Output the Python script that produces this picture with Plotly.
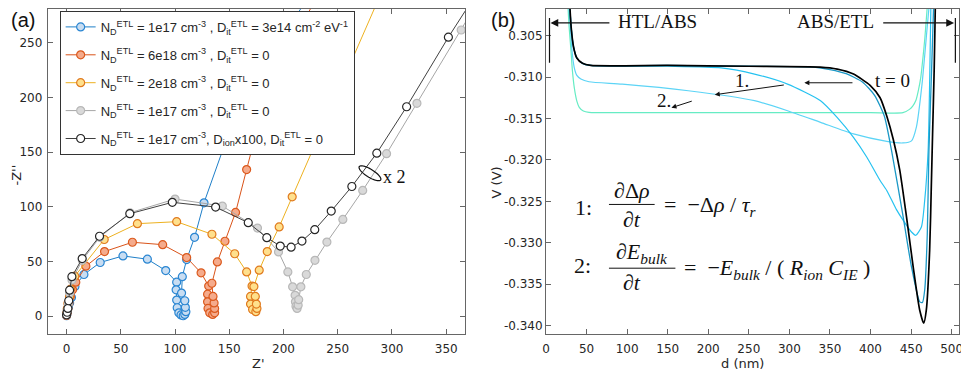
import numpy as np
import plotly.graph_objects as go

# ---------------- (a) Nyquist data: Z' and -Z'' ----------------
blue_re = [0, 0.3, 0.8, 1.6, 2.8, 4.5, 7.7, 16, 31, 52, 74.5, 91.4, 101.5, 101, 101.5, 102, 103.5,
           105.5, 107.5, 109, 110, 109.5, 109, 106, 106.7, 110.7, 118, 126.7, 163, 250]
blue_im = [0.3, 2, 4.5, 8, 12, 17, 27, 38, 49, 55, 52, 41.6, 31, 24, 14.6, 7.6, 3,
           1, 0.3, 1.5, 4, 8, 14, 21, 36, 51.7, 72, 103.6, 205, 330]

orange_re = [0, 0.5, 1.2, 2.2, 3.5, 5.5, 8.5, 17.8, 35, 60.7, 88.6, 110.7, 124, 131, 130, 130,
             130.4, 132, 134.7, 136.5, 136.5, 136, 135, 134, 139, 146, 155.8, 166, 188, 260]
orange_im = [0.5, 3, 7, 12, 18, 24, 31, 45.6, 59, 67.5, 65.3, 53.5, 39.5, 27.4, 20, 13,
             7, 3, 1.5, 3, 7, 12, 18, 30, 49.5, 68.4, 94.8, 134, 219, 340]

yellow_re = [0, 0.6, 1.2, 2.7, 3.7, 7.6, 34.7, 65.3, 101.5, 134, 155, 166, 171, 169.6, 169.6,
             171.5, 174.5, 175.5, 175, 174, 172.7, 177.6, 185, 196, 208, 300]
yellow_im = [1.8, 6.4, 11.5, 18, 24.6, 36.5, 70, 84.5, 86.3, 74.8, 57, 40.4, 27.4, 18, 11,
             6, 4, 7, 11, 18, 27, 42, 59, 81.5, 109, 318]

gray_re = [0, 0.8, 1.6, 2.8, 5, 14.5, 30.5, 58.5, 100, 143.6, 176, 195.4, 204, 208.4, 210.7,
           211, 211.5, 212.5, 213.5, 214, 216, 221, 229, 240, 254.7, 273, 295, 323, 363.8, 400]
gray_im = [1, 5, 11, 21, 33, 51, 72, 94.5, 107, 100.6, 80.5, 58.7, 40.4, 26.7, 19,
           13, 9, 7, 10, 15, 26.7, 38, 51, 67.7, 88.4, 114.9, 148.5, 194.5, 261.6, 322]

black_re = [0, 0.5, 1.2, 2, 2.8, 4.9, 14.4, 30.4, 58.3, 97.5, 137.4, 167.5, 184.6, 197, 207,
            217, 228.8, 244, 263, 286, 313.5, 352, 385]
black_im = [1, 3.5, 7, 14, 23.7, 36, 52.6, 73, 93.6, 104, 99.7, 85.4, 71.7, 64, 63,
            68.6, 79, 96, 118.5, 149, 191.4, 255, 306]

names_a = [
    "N<sub>D</sub><sup>ETL</sup> = 1e17 cm<sup>-3</sup> , D<sub>it</sub><sup>ETL</sup> = 3e14 cm<sup>-2</sup> eV<sup>-1</sup>",
    "N<sub>D</sub><sup>ETL</sup> = 6e18 cm<sup>-3</sup> , D<sub>it</sub><sup>ETL</sup> = 0",
    "N<sub>D</sub><sup>ETL</sup> = 2e18 cm<sup>-3</sup> , D<sub>it</sub><sup>ETL</sup> = 0",
    "N<sub>D</sub><sup>ETL</sup> = 1e17 cm<sup>-3</sup> , D<sub>it</sub><sup>ETL</sup> = 0",
    "N<sub>D</sub><sup>ETL</sup> = 1e17 cm<sup>-3</sup>, D<sub>ion</sub>x100, D<sub>it</sub><sup>ETL</sup> = 0",
]

# ---------------- (b) potential profiles V(d) ----------------
d_t0 = [29, 31, 34, 38, 45, 55, 150, 250, 338, 359, 379, 399.5, 411.8, 420, 428, 436,
        444.4, 452.6, 460.6, 465.6, 468.8, 472.9, 475, 476.5, 478.5, 480]
v_t0 = [-0.3008, -0.3040, -0.3064, -0.3077, -0.30835, -0.3086, -0.3086, -0.3087, -0.3088,
        -0.30904, -0.30964, -0.3110, -0.3125, -0.3147, -0.3175, -0.3212, -0.3269, -0.3329,
        -0.3381, -0.3397, -0.3381, -0.3309, -0.3229, -0.3169, -0.3090, -0.3008]

d_c1 = [29, 31, 34, 38, 45, 55, 150, 250, 330, 350, 370, 390, 405, 417, 426, 440.3, 450.5,
        460.6, 464, 466.8, 470, 472, 475, 478]
v_c1 = [-0.3008, -0.3040, -0.3064, -0.3077, -0.30835, -0.3086, -0.3086, -0.3087, -0.3088,
        -0.3091, -0.3096, -0.3106, -0.3122, -0.3147, -0.3189, -0.3269, -0.3329, -0.3371,
        -0.3372, -0.3357, -0.3289, -0.3189, -0.3100, -0.3008]

d_c2 = [29, 31, 34, 38, 45, 55, 150, 216, 257, 297.7, 338.4, 358.8, 379, 395.5, 411.8, 420,
        432, 440.3, 450.5, 455.8, 462.7, 466.8, 471, 473, 474.5]
v_c2 = [-0.3008, -0.3040, -0.3064, -0.3077, -0.30835, -0.3086, -0.3087, -0.3089, -0.30964,
        -0.31085, -0.31285, -0.31486, -0.31727, -0.31967, -0.32248, -0.32368, -0.3260,
        -0.32729, -0.32869, -0.32909, -0.32809, -0.32488, -0.31887, -0.3100, -0.3008]

d_c3 = [27.5, 30, 32, 34.8, 38, 43, 53, 94, 175.4, 257, 297.7, 338.4, 379, 420, 440, 450.5,
        456.6, 463.5, 469.5, 471.5, 473]
v_c3 = [-0.3008, -0.3040, -0.3068, -0.30885, -0.3098, -0.31024, -0.31057, -0.31085, -0.31165,
        -0.31285, -0.31406, -0.31546, -0.31686, -0.31775, -0.31795, -0.3177, -0.31600,
        -0.31085, -0.30440, -0.3022, -0.3008]

d_c4 = [26.7, 28.5, 30.8, 32.5, 34.8, 38, 41, 46, 53, 100, 200, 300, 400, 440, 448, 452,
        456, 459, 462, 464.8, 466.8, 468.8, 470.5]
v_c4 = [-0.3008, -0.3040, -0.30684, -0.3092, -0.31125, -0.31290, -0.31366, -0.31410,
        -0.31426, -0.3143, -0.3143, -0.3143, -0.3143, -0.3143, -0.3139, -0.3135, -0.3128,
        -0.3116, -0.3100, -0.3075, -0.3055, -0.3030, -0.3008]

a_xticks = [0, 50, 100, 150, 200, 250, 300, 350]
a_yticks = [0, 50, 100, 150, 200, 250]
b_xticks = [0, 50, 100, 150, 200, 250, 300, 350, 400, 450, 500]
b_yticks = [-0.340, -0.335, -0.330, -0.325, -0.320, -0.315, -0.310, -0.305]
b_ylabels = ["-0.340", "-0.335", "-0.330", "-0.325", "-0.320", "-0.315", "-0.310", "0.305"]

fig = go.Figure()

series_a = [(blue_re, blue_im), (orange_re, orange_im), (yellow_re, yellow_im),
            (gray_re, gray_im), (black_re, black_im)]
line_cols = ["#1f7fc8", "#d95319", "#edb120", "#a6a6a6", "#404040"]
edge_cols = ["#2a86d2", "#db5a1e", "#e07a1e", "#b8b8b8", "#262626"]
fill_cols = ["#c8ddf2", "#f5ab8c", "#ffe08c", "#d9d9d9", "#ffffff"]

for i, ((zr, zi), name, lc, ec, fc) in enumerate(zip(series_a, names_a, line_cols, edge_cols, fill_cols)):
    fig.add_trace(go.Scatter(
        x=zr, y=zi, name=name, mode="lines+markers", legendgroup=f"g{i}",
        line=dict(color=lc, width=1),
        marker=dict(size=8, color=fc, line=dict(color=ec, width=1.2)),
        xaxis="x", yaxis="y"
    ))

series_b = [(d_c4, v_c4, "#66ecc4", 1.2), (d_c3, v_c3, "#5cd4f6", 1.2),
            (d_c2, v_c2, "#26c2f0", 1.2), (d_c1, v_c1, "#1b98c6", 1.3),
            (d_t0, v_t0, "#000000", 1.7)]
for dd, vv, col, w in series_b:
    fig.add_trace(go.Scatter(
        x=dd, y=vv, mode="lines", line=dict(color=col, width=w, shape="spline", smoothing=0.6),
        showlegend=False, xaxis="x2", yaxis="y2"
    ))

tickfont = dict(family="DejaVu Sans", size=12, color="#262626")
axis_common = dict(showline=True, linecolor="#666666", linewidth=1, mirror="ticks",
                   ticks="inside", ticklen=5, tickcolor="#666666", showgrid=False,
                   zeroline=False, tickfont=tickfont)

# the page body adds an 8 px offset, so the figure is 8 px smaller than the window
fig.update_layout(
    width=961, height=366,
    margin=dict(l=0, r=0, t=0, b=40),
    paper_bgcolor="white", plot_bgcolor="white",
    xaxis=dict(domain=[0.03746, 0.47555], range=[-17.4, 367.5], tickvals=a_xticks,
               anchor="y", ticklabelstandoff=4, **axis_common),
    yaxis=dict(domain=[0, 1], range=[-16.4, 280.8], tickvals=a_yticks,
               anchor="x", ticklabelstandoff=2, **axis_common),
    xaxis2=dict(domain=[0.56035, 0.99407], range=[0, 509.5], tickvals=b_xticks,
                anchor="y2", ticklabelstandoff=4, **axis_common),
    yaxis2=dict(domain=[0, 1], range=[-0.341, -0.30179], tickvals=b_yticks,
                ticktext=b_ylabels, anchor="x2", **axis_common),
    legend=dict(x=0.05, y=0.994, xanchor="left", yanchor="top", tracegroupgap=8,
                bgcolor="white", bordercolor="#333333", borderwidth=1,
                font=dict(family="Liberation Sans", size=13, color="#262626")),
)

# ellipse marking the x2 scaled curves
t = np.linspace(0, 2 * np.pi, 60)
ang = np.deg2rad(-31.6)
ex = 12.7 * np.cos(t)
ey = 4.0 * np.sin(t)
px = ex * np.cos(ang) - ey * np.sin(ang)
py = ex * np.sin(ang) + ey * np.cos(ang)
cx, cy = 279.7, 130.6
path = "M " + " L ".join(f"{cx + a / 1.094:.3f},{cy + b / 1.097:.3f}" for a, b in zip(px, py)) + " Z"
fig.add_shape(type="path", path=path, xref="x", yref="y", line=dict(color="#111111", width=1.2))
fig.add_annotation(x=302.6, y=127, xref="x", yref="y", text="x 2", showarrow=False,
                   font=dict(family="Liberation Serif", size=18, color="#111111"))

serif = dict(family="Liberation Serif", size=19, color="#111111")
eqfont = dict(family="Liberation Serif", size=22, color="#111111")

# interface labels with arrows
fig.add_annotation(x=137.5, y=-0.30335, xref="x2", yref="y2", text="HTL/ABS",
                   showarrow=False, font=serif)
fig.add_annotation(x=356.4, y=-0.30335, xref="x2", yref="y2", text="ABS/ETL",
                   showarrow=False, font=serif)
for hx, tx in [(5.5, 80), (503, 413.8)]:
    fig.add_annotation(x=hx, y=-0.30347, ax=tx, ay=-0.30347, xref="x2", yref="y2",
                       axref="x2", ayref="y2", text="", showarrow=True, arrowhead=2,
                       arrowsize=1.3, arrowwidth=1.2, arrowcolor="#111111")
for bx in [4.3, 504.6]:
    fig.add_shape(type="line", x0=bx, x1=bx, y0=-0.30287, y1=-0.30828, xref="x2", yref="y2",
                  line=dict(color="#111111", width=1.2))

fig.add_annotation(x=427, y=-0.31045, xref="x2", yref="y2", text="t = 0",
                   showarrow=False, font=serif)
fig.add_annotation(x=241.4, y=-0.31045, xref="x2", yref="y2", text="1.",
                   showarrow=False, font=serif)
fig.add_annotation(x=146, y=-0.31285, xref="x2", yref="y2", text="2.",
                   showarrow=False, font=serif)
for hx, hy, tx, ty in [(318.5, -0.31069, 379.6, -0.31069),
                       (208, -0.31213, 295, -0.31093),
                       (154.6, -0.3137, 181.5, -0.31285)]:
    fig.add_annotation(x=hx, y=hy, ax=tx, ay=ty, xref="x2", yref="y2", axref="x2",
                       ayref="y2", text="", showarrow=True, arrowhead=2, arrowsize=1,
                       arrowwidth=1, arrowcolor="#111111")

# equations
fig.add_annotation(x=45.8, y=-0.32574, xref="x2", yref="y2", text="1:", showarrow=False, font=eqfont)
fig.add_annotation(x=105.7, y=-0.32370, xref="x2", yref="y2", text="<i>∂</i>Δ<i>ρ</i>",
                   showarrow=False, font=eqfont)
fig.add_annotation(x=105.7, y=-0.32716, xref="x2", yref="y2", text="<i>∂t</i>",
                   showarrow=False, font=eqfont)
fig.add_shape(type="line", x0=77.6, x1=133.9, y0=-0.32537, y1=-0.32537, xref="x2", yref="y2",
              line=dict(color="#111111", width=1))
fig.add_annotation(x=142.4, y=-0.32561, xref="x2", yref="y2", xanchor="left",
                   text="=  −Δ<i>ρ</i> / <i>τ<sub>r</sub></i>", showarrow=False, font=eqfont)

fig.add_annotation(x=44.6, y=-0.33271, xref="x2", yref="y2", text="2:", showarrow=False, font=eqfont)
fig.add_annotation(x=118, y=-0.33126, xref="x2", yref="y2", text="<i>∂E<sub>bulk</sub></i>",
                   showarrow=False, font=eqfont)
fig.add_annotation(x=105.7, y=-0.33474, xref="x2", yref="y2", text="<i>∂t</i>",
                   showarrow=False, font=eqfont)
fig.add_shape(type="line", x0=77.6, x1=159.5, y0=-0.33306, y1=-0.33306, xref="x2", yref="y2",
              line=dict(color="#111111", width=1))
fig.add_annotation(x=168, y=-0.33318, xref="x2", yref="y2", xanchor="left",
                   text="=  −<i>E<sub>bulk</sub></i> / ( <i>R<sub>ion</sub> C<sub>IE</sub></i> )",
                   showarrow=False, font=eqfont)

# axis titles and panel labels
lab = dict(family="DejaVu Sans", size=13, color="#262626")
fig.add_annotation(x=0.258, y=-0.092, xref="paper", yref="paper", text="Z'", showarrow=False,
                   xanchor="center", yanchor="middle", font=lab)
fig.add_annotation(x=0.767, y=-0.092, xref="paper", yref="paper", text="d (nm)", showarrow=False,
                   xanchor="center", yanchor="middle", font=lab)
fig.add_annotation(x=0.005, y=0.49, xref="paper", yref="paper", text="-Z''", textangle=-90,
                   xanchor="center", yanchor="middle", showarrow=False, font=lab)
fig.add_annotation(x=0.5088, y=0.466, xref="paper", yref="paper", text="V (V)", textangle=-90,
                   xanchor="center", yanchor="middle", showarrow=False, font=lab)
fig.add_annotation(x=0.0115, y=0.965, xref="paper", yref="paper", text="(a)", showarrow=False,
                   xanchor="center", yanchor="middle",
                   font=dict(family="Liberation Sans", size=20, color="#111111"))
fig.add_annotation(x=0.515, y=0.965, xref="paper", yref="paper", text="(b)", showarrow=False,
                   xanchor="center", yanchor="middle",
                   font=dict(family="Liberation Sans", size=20, color="#111111"))

fig.write_html("out.html")
